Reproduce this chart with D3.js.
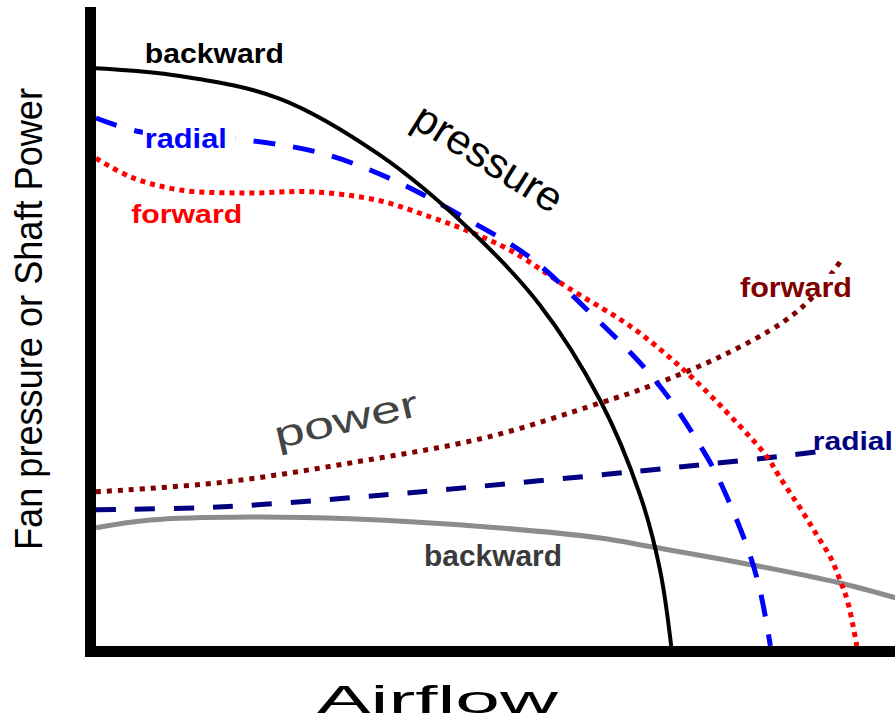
<!DOCTYPE html>
<html>
<head>
<meta charset="utf-8">
<script src="https://cdn.jsdelivr.net/npm/d3@7"></script>
<style>
    html, body { margin: 0; padding: 0; background: #fff; }
    #main { width: 895px; height: 721px; }
    text { font-family: "Liberation Sans", Arial, sans-serif; }
</style>
</head>
<body>
<div id="main"></div>
<script>

// pressure curves (airflow in % of axis, value in % of axis)
const flowPressBackward = [0, 10.5, 23, 35.5, 46.8, 55.5, 63, 68, 70.5, 71.9];
const pressBackward     = [96.3, 95, 91.2, 81.8, 69.3, 56.8, 41, 25.2, 12.7, 0];

const flowPressRadial = [0, 5.5, 17.6, 28, 37.1, 45.9, 54.3, 61.8, 68, 71.8, 75.1, 77.6, 81.4, 83, 84.3];
const pressRadial     = [88, 85.7, 84.5, 82.2, 77.7, 71.5, 64.7, 55.5, 47.2, 41, 34.3, 28.5, 16.5, 9.3, 0];

const flowPressForward = [0, 4.3, 10.5, 18.9, 27.1, 35.5, 41.8, 46.8, 52.1, 58.9, 67.1, 73.9, 80.1, 83.9, 85.3, 88.4, 90.1, 91.8, 93, 94, 95.1];
const pressForward     = [81.3, 78.2, 76, 75.5, 75.7, 74.2, 71.5, 69, 65.7, 59.8, 53, 45.5, 37.2, 31.5, 28.5, 22.2, 18.5, 14.8, 11, 7.2, 0];

// power curves
const flowPowerForward = [0, 15.9, 32.6, 48.9, 63, 69.6, 78, 85.9, 89.6, 93];
const powerForward     = [25.7, 27.3, 30.7, 34.8, 40.5, 43.5, 48.2, 54, 58.2, 64];

const flowPowerRadial = [0, 15.9, 32.6, 47.1, 66.8, 75.5, 86.8, 91.8];
const powerRadial     = [22.7, 23.2, 24.8, 26.5, 29, 30.2, 31.8, 32.7];

const flowPowerBackward = [0, 6.8, 19.3, 31.8, 49.3, 63, 69.6, 82.1, 93, 100];
const powerBackward     = [19.7, 21, 21.5, 21.2, 19.8, 18, 16.5, 13.5, 10.5, 8];

const bladeNames = ["backward", "radial", "forward"];

function zipPts(xs, ys) {
    return xs.map((d, i) => [d, ys[i]]);
}

function createChart() {
    const width = 895, height = 721;
    const svg = d3.select("#main").append("svg")
        .attr("width", width)
        .attr("height", height);

    const x = d3.scaleLinear().domain([0, 100]).range([96, 896]);
    const y = d3.scaleLinear().domain([0, 100]).range([646, 46]);

    const line = d3.line()
        .x(d => x(d[0]))
        .y(d => y(d[1]))
        .curve(d3.curveCatmullRom.alpha(0.5));

    const series = [
        // power first so pressure curves sit on top
        {pts: zipPts(flowPowerBackward, powerBackward), color: "#8c8c8c", w: 5, dash: null},
        {pts: zipPts(flowPowerRadial, powerRadial), color: "#000080", w: 5, dash: "20,19"},
        {pts: zipPts(flowPowerForward, powerForward), color: "#800000", w: 5, dash: "5,6"},
        {pts: zipPts(flowPressForward, pressForward), color: "#ff0000", w: 5, dash: "5,5"},
        {pts: zipPts(flowPressRadial, pressRadial), color: "#0000ff", w: 5, dash: "22,18"},
        {pts: zipPts(flowPressBackward, pressBackward), color: "#000000", w: 4, dash: null}
    ];

    svg.selectAll("path.curve")
        .data(series)
        .enter().append("path")
        .attr("class", "curve")
        .attr("d", d => line(d.pts))
        .attr("fill", "none")
        .attr("stroke", d => d.color)
        .attr("stroke-width", d => d.w)
        .attr("stroke-dasharray", d => d.dash);

    // axes: plain thick bars, no ticks
    const axisX = d3.axisBottom(x).tickValues([]).tickSizeOuter(0);
    const axisY = d3.axisLeft(y).tickValues([]).tickSizeOuter(0);
    svg.append("g")
        .attr("transform", "translate(0,651.5)")
        .call(axisX)
        .call(g => g.select(".domain").attr("stroke", "#000").attr("stroke-width", 11)
            .attr("d", "M85,0H895"));
    svg.append("g")
        .attr("transform", "translate(90.5,0)")
        .call(axisY)
        .call(g => g.select(".domain").attr("stroke", "#000").attr("stroke-width", 11)
            .attr("d", "M0,7V657"));

    // curve labels
    function label(txt, fx, fy, color, size, len, opts) {
        opts = opts || {};
        const t = svg.append("text")
            .attr("x", x(fx))
            .attr("y", y(fy))
            .attr("fill", color)
            .attr("font-size", size)
            .attr("font-weight", "bold")
            .attr("textLength", len)
            .attr("lengthAdjust", "spacingAndGlyphs")
            .text(txt);
        if (opts.family) t.style("font-family", opts.family);
        if (opts.knockout) {
            // white box hiding the curve behind the label
            const b = t.node().getBBox();
            svg.insert("rect", function() { return t.node(); })
                .attr("x", b.x - 2)
                .attr("y", b.y + 2)
                .attr("width", b.width + opts.knockout[1])
                .attr("height", opts.knockout[0])
                .attr("fill", "#fff");
        }
        return t;
    }

    label(bladeNames[0], 6.1, 97.2, "#000", 28, 139);
    label(bladeNames[1], 6.1, 83, "#0000ff", 28, 82, {knockout: [30, 11]});
    label(bladeNames[2], 4.4, 70.5, "#ff0000", 26, 111);
    label(bladeNames[2], 80.5, 58.2, "#800000", 28, 112, {knockout: [22, 4]});
    label(bladeNames[1], 89.6, 32.7, "#000080", 26, 80);
    label(bladeNames[0], 41, 13.3, "#3a3a3a", 30, 138,
        {family: '"Liberation Sans Narrow", "Arial Narrow", "Liberation Sans", sans-serif'});

    // group labels
    svg.append("text")
        .attr("transform", "translate(481,170) rotate(32)")
        .attr("text-anchor", "middle")
        .attr("font-size", 42)
        .attr("fill", "#000")
        .attr("textLength", 168)
        .attr("lengthAdjust", "spacingAndGlyphs")
        .text("pressure");

    svg.append("text")
        .attr("transform", "translate(349,432) rotate(-13)")
        .attr("text-anchor", "middle")
        .attr("font-size", 38)
        .attr("fill", "#444")
        .attr("textLength", 147)
        .attr("lengthAdjust", "spacingAndGlyphs")
        .text("power");

    // axis titles
    svg.append("text")
        .attr("transform", "translate(42,319) rotate(-90)")
        .attr("text-anchor", "middle")
        .attr("font-size", 38)
        .attr("fill", "#000")
        .attr("textLength", 462)
        .attr("lengthAdjust", "spacingAndGlyphs")
        .text("Fan pressure or Shaft Power");

    svg.append("text")
        .attr("x", 437.5)
        .attr("y", 713)
        .attr("text-anchor", "middle")
        .attr("font-size", 38)
        .attr("fill", "#000")
        .attr("textLength", 241)
        .attr("lengthAdjust", "spacingAndGlyphs")
        .text("Airflow");
}

document.addEventListener("DOMContentLoaded", createChart);
</script>
</body>
</html>
